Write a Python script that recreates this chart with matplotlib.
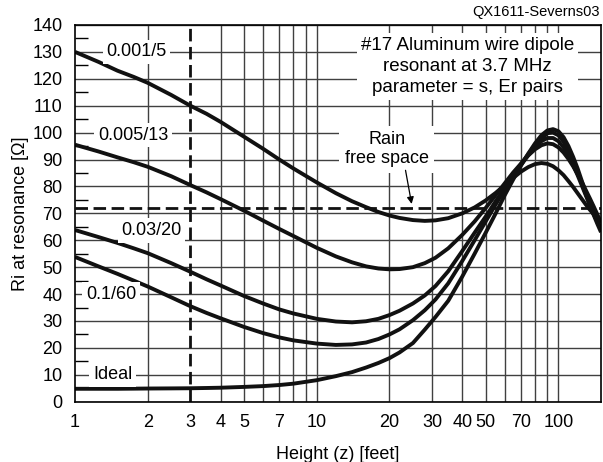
import matplotlib
matplotlib.use("Agg")
import matplotlib.pyplot as plt
from matplotlib.ticker import FixedLocator, FixedFormatter, NullFormatter

plt.rcParams['font.family'] = ['Liberation Sans', 'DejaVu Sans']

# heights (feet)
height = [1, 1.25, 1.5, 1.75, 2, 2.5, 3, 3.5, 4, 5, 6, 7, 8, 10, 12, 14, 16,
          18, 20, 22, 25, 28, 31, 35, 40, 45, 50, 55, 60, 65, 70, 75, 80,
          85, 90, 95, 100, 105, 110, 115, 120, 125, 130, 135, 140, 145, 150]

# Ri at resonance for each s/Er pair (ohms)
ri_001_5 = [130, 126.3, 123, 120.7, 118.5, 114, 110, 107, 104, 98.5, 94, 90,
            86.7, 81.5, 77.5, 74.5, 72.3, 70.5, 69.2, 68.3, 67.5, 67.2, 67.4,
            68.2, 70, 72.2, 74.8, 77.6, 80.5, 83.2, 85.5, 87.2, 88.3, 88.7,
            88.4, 87.5, 86, 84.2, 82, 79.8, 77.5, 75.3, 73.2, 71.3, 69.6, 68.2, 67]
ri_005_13 = [95.5, 93, 90.8, 89, 87.3, 83.8, 80.5, 77.8, 75.3, 71, 67.3, 64.2,
             61.6, 57.2, 54, 51.8, 50.3, 49.5, 49.2, 49.3, 50, 51.5, 53.5,
             57, 62, 67, 72, 76.8, 81.2, 85.2, 88.5, 91.5, 93.8, 95.3,
             96, 95.7, 94.5, 92.6, 90.2, 87.5, 84.6, 81.6, 78.5, 75.5, 72.5, 69.5, 66.5]
ri_03_20 = [63.8, 61.2, 59, 57, 55.2, 51.5, 48.3, 45.5, 43.2, 39.3, 36.5, 34.3,
            32.8, 30.8, 29.8, 29.5, 29.9, 30.8, 32.2, 33.8, 36.5, 39.5, 43,
            48.5, 56, 62.8, 68.8, 74.5, 79.5, 84, 88, 91.6, 94.6, 96.8,
            98, 98, 96.8, 94.5, 91.5, 88, 84.2, 80.3, 76.5, 73, 69.8, 67, 64.5]
ri_1_60 = [53.8, 50.3, 47.5, 45, 42.8, 38.8, 35.5, 33, 31, 27.8, 25.5, 23.9,
           22.8, 21.6, 21.1, 21.3, 22, 23.3, 25, 26.9, 30.3, 34, 38,
           44, 52.3, 60, 67, 73.3, 79, 84, 88.3, 92, 95.3, 97.8,
           99.8, 100, 99, 96.6, 93.3, 89.5, 85.3, 81, 77, 73.2, 69.8, 66.8, 64]
ri_ideal = [4.8, 4.8, 4.8, 4.85, 4.9, 4.95, 5, 5.1, 5.2, 5.5, 5.8, 6.2,
            6.7, 8, 9.5, 11, 12.7, 14.4, 16.2, 18.3, 21.8, 26.8, 31.5,
            37.5, 46.5, 55, 62.8, 70, 76.8, 82.6, 87.8, 92.2, 96, 99,
            100.8, 101.3, 100.5, 98.3, 95, 91, 86.7, 82, 77.5, 73.2, 69.3, 66, 63]

curves = [ri_001_5, ri_005_13, ri_03_20, ri_1_60, ri_ideal]

curve_labels = ['0.001/5', '0.005/13', '0.03/20', '0.1/60', 'Ideal']
label_x = [1.80, 1.74, 2.07, 1.41, 1.43]
label_y = [130, 99, 63.6, 40, 10]

xticks = [1, 2, 3, 4, 5, 7, 10, 20, 30, 40, 50, 70, 100]
xgrid = [2, 4, 5, 6, 7, 8, 9, 10, 20, 30, 40, 50, 60, 70, 80, 90, 100]
yticks = list(range(0, 141, 10))

free_space = 72
marker_height = 3

fig = plt.figure(figsize=(6.03, 4.62), dpi=100)
ax = fig.add_axes([0.1244, 0.1305, 0.8723, 0.8154])

ax.set_xscale('log')
ax.set_xlim(1, 150)
ax.set_ylim(0, 140)

# grid
for xv in xgrid:
    ax.axvline(xv, color='#404040', lw=1.0, zorder=0.5)
ax.set_yticks(yticks)
ax.yaxis.grid(True, color='#404040', lw=1.0, zorder=0.5)
ax.set_axisbelow(True)

for ri in curves:
    ax.plot(height, ri, color='#111111', lw=2.8, solid_capstyle='butt',
            solid_joinstyle='round', zorder=2)

ax.axhline(free_space, color='#111111', lw=2.0, ls=(0, (4.5, 2)), zorder=2.5)
ax.axvline(marker_height, color='#111111', lw=2.0, ls=(0, (4.5, 2)), zorder=2.5)

box = dict(boxstyle='square,pad=0.2', facecolor='white', edgecolor='none')
for lab, lx, ly in zip(curve_labels, label_x, label_y):
    ax.text(lx, ly, lab, fontsize=13, ha='center', va='center', bbox=box, zorder=3)

ax.text(42.1, 124.5, '#17 Aluminum wire dipole\nresonant at 3.7 MHz\nparameter = s, Er pairs',
        fontsize=13.5, ha='center', va='center', linespacing=1.32, bbox=box, zorder=3)

ax.text(19.5, 93.8, 'Rain\nfree space', fontsize=13, ha='center', va='center',
        linespacing=1.15, bbox=dict(boxstyle='square,pad=0.3', facecolor='white',
                                    edgecolor='none'), zorder=3)
ax.annotate('', xy=(24.7, 73.5), xytext=(23.3, 86),
            arrowprops=dict(arrowstyle='-|>', color='black', lw=0.9,
                            mutation_scale=10, shrinkA=0, shrinkB=0), zorder=3)

ax.xaxis.set_major_locator(FixedLocator(xticks))
ax.xaxis.set_major_formatter(FixedFormatter([str(t) for t in xticks]))
ax.xaxis.set_minor_locator(FixedLocator([]))
ax.xaxis.set_minor_formatter(NullFormatter())
ax.yaxis.set_minor_locator(FixedLocator(list(range(5, 140, 10))))

ax.tick_params(axis='x', which='both', length=0, pad=8.5, labelsize=13)
ax.tick_params(axis='y', which='major', length=0, pad=9, labelsize=13)
ax.tick_params(axis='y', which='minor', direction='in', length=9.5, width=1.0,
               color='black', left=True, right=False)

for sp in ax.spines.values():
    sp.set_color('black')
    sp.set_linewidth(1.2)

ax.set_xlabel('Height (z) [feet]', fontsize=13, labelpad=11)
ax.set_ylabel('Ri at resonance [Ω]', fontsize=13, labelpad=2)

fig.text(0.995, 0.974, 'QX1611-Severns03', fontsize=10.5, ha='right', va='center')

fig.savefig('out.png', dpi=100)
